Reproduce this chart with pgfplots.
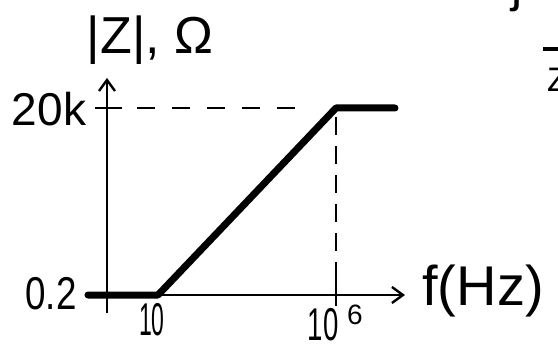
\documentclass[border=0pt]{standalone}
\usepackage{pgfplots}
\pgfplotsset{compat=1.18}
\usetikzlibrary{arrows.meta}
\usepackage{fontspec}
\setmainfont{Liberation Sans}

\newcommand{\fs}[1]{\fontsize{#1}{#1}\selectfont}

\begin{document}
\begin{tikzpicture}
\useasboundingbox (0,0) rectangle (558pt,353pt);
\clip (0,0) rectangle (558pt,353pt);
\begin{axis}[
  at={(86.8pt,9.34pt)}, anchor=south west,
  scale only axis, width=320.4pt, height=299.2pt,
  xmode=log, ymode=log,
  xmin=0.1, xmax=1e8, ymin=0.01, ymax=1e6,
  hide axis, clip=false,
]
  % axes with open arrow heads
  \draw[line width=2.4pt, -{Straight Barb[length=11pt,width=16pt,line width=2.4pt]}]
    (axis cs:0.369,0.066) -- (axis cs:0.369,1.27e5);
  \draw[line width=2.4pt, -{Straight Barb[length=11pt,width=16pt,line width=2.4pt]}]
    (axis cs:0.089,0.2) -- (axis cs:8.67e7,0.2);
  % tick marks
  \draw[line width=2.4pt] (axis cs:0.170,2e4) -- (axis cs:0.975,2e4);
  \draw[line width=2.4pt] (axis cs:1e6,0.1016) -- (axis cs:1e6,0.57);
  % guide lines
  \draw[line width=2.6pt, dash pattern=on 18pt off 17pt] (axis cs:2.57,2e4) -- (axis cs:1.35e5,2e4);
  \draw[line width=2.4pt, dash pattern=on 18pt off 11pt] (axis cs:1e6,1.15e4) -- (axis cs:1e6,0.42);
  % asymptotic magnitude response
  \addplot[line width=7pt, line join=round, line cap=round]
    coordinates {(0.108,0.2) (10,0.2) (1e6,20000) (4.54e7,20000)};
  % labels
  \node at (axis cs:5.96,1.31e6) {\fs{52}|Z|, Ω};
  \node at (axis cs:8.67e-3,1.88e4) {\fs{46}20k};
  \node at (axis cs:9.86e-3,0.213) {\fs{46}\scalebox{0.8}[1]{0.2}};
  \node at (axis cs:6.78,0.043) {\fs{46}\scalebox{0.5}[1]{10}};
  \node at (axis cs:4.32e5,0.0316) {\fs{46}\scalebox{0.6}[1]{10}};
  \node at (axis cs:3.42e6,0.0583) {\fs{28}6};
  \node at (axis cs:1.35e10,0.256) {\fs{56}f(Hz)};
\end{axis}
% neighbouring text running off the upper right edge
\node[anchor=base] at (517pt,351pt) {\fs{50}j};
\draw[line width=4pt] (543pt,304pt) -- (565pt,304pt);
\node[anchor=base west, inner sep=0pt] at (547pt,261pt) {\fs{34}Z};
\end{tikzpicture}
\end{document}
